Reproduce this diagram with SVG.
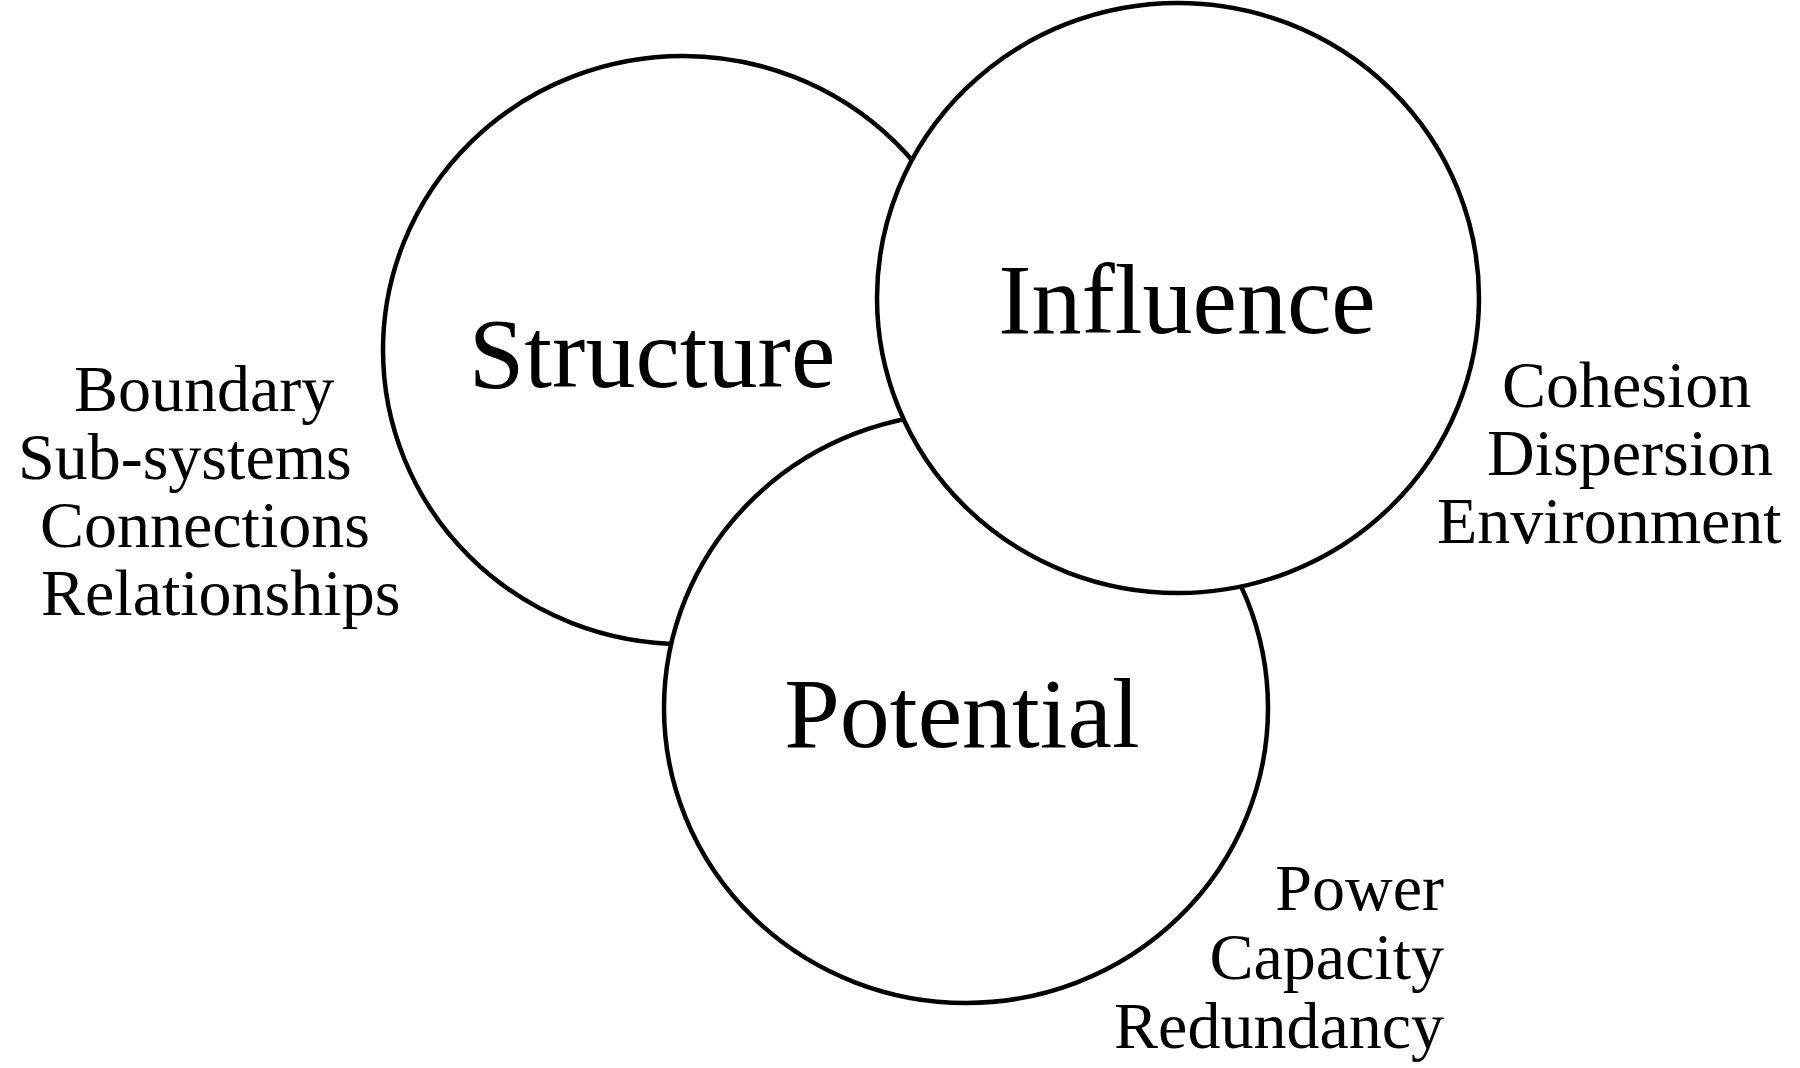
<svg xmlns="http://www.w3.org/2000/svg" width="1800" height="1068" viewBox="0 0 1800 1068">
<style>
.c{fill:#fff;stroke:#000;stroke-width:4.5}
.big{font-family:"Liberation Serif","Times New Roman",serif;font-size:100px;fill:#000;text-anchor:middle}
.sm{font-family:"Liberation Serif","Times New Roman",serif;font-size:66px;fill:#000}
</style>
<rect width="1800" height="1068" fill="#fff"/>
<g id="connectors"></g>
<g id="structure">
<ellipse class="c" cx="683" cy="350" rx="300" ry="294"/>
<text class="big" x="652" y="387">Structure</text>
</g>
<g id="potential">
<ellipse class="c" cx="966" cy="708" rx="302" ry="295"/>
<text class="big" x="962" y="747">Potential</text>
</g>
<g id="influence">
<ellipse class="c" cx="1178" cy="298" rx="301" ry="295"/>
<text class="big" x="1187" y="333">Influence</text>
</g>
<g id="structure-items" class="sm">
<text x="74" y="411">Boundary</text>
<text x="18" y="479">Sub-systems</text>
<text x="40" y="547">Connections</text>
<text x="41" y="615">Relationships</text>
</g>
<g id="influence-items" class="sm">
<text x="1502" y="407">Cohesion</text>
<text x="1487" y="475">Dispersion</text>
<text x="1437" y="543">Environment</text>
</g>
<g id="potential-items" class="sm" text-anchor="end">
<text x="1444" y="910">Power</text>
<text x="1444" y="979">Capacity</text>
<text x="1444" y="1048">Redundancy</text>
</g>
</svg>
